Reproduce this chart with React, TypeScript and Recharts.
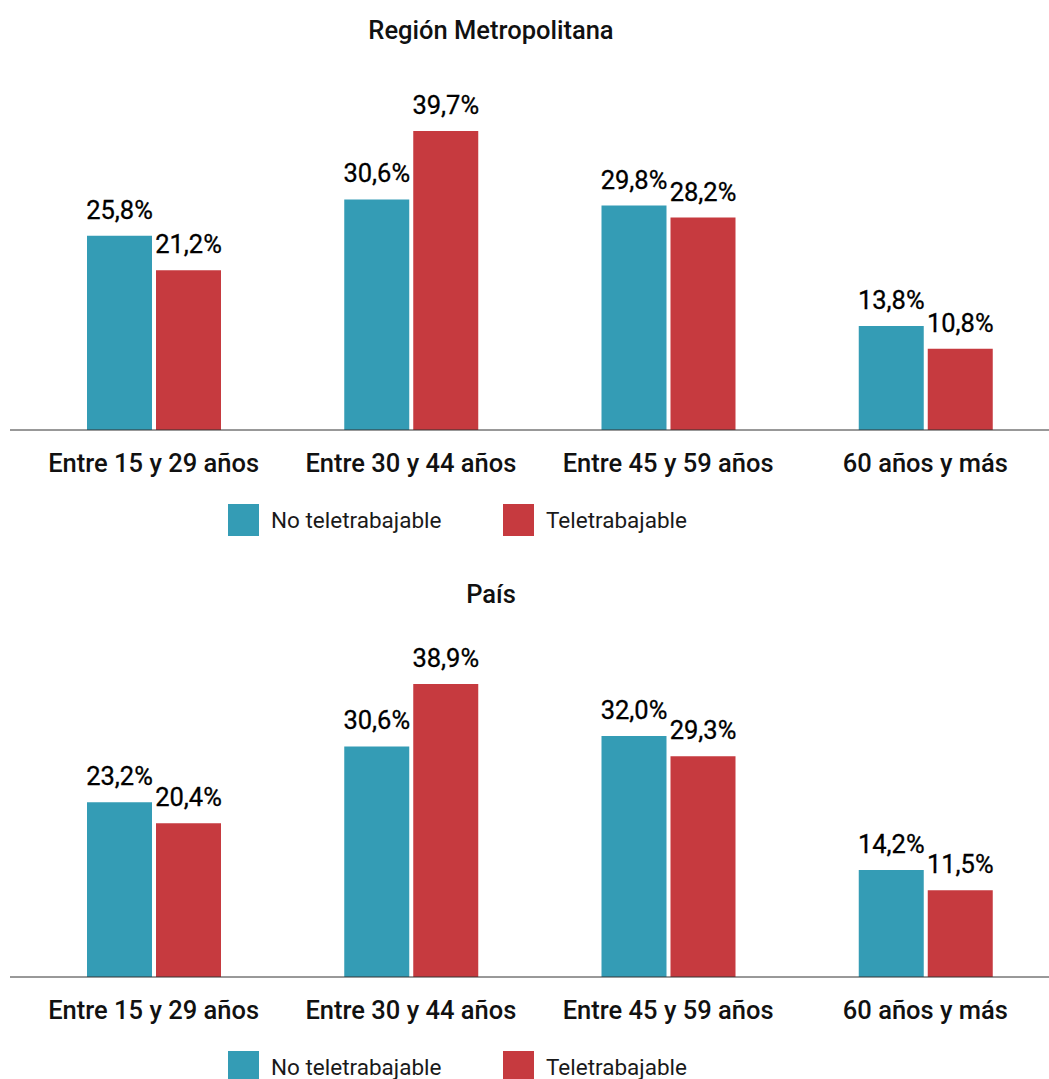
import { BarChart, Bar, XAxis, YAxis, Legend, LabelList } from "recharts";

const grupos = [
  "Entre 15 y 29 años",
  "Entre 30 y 44 años",
  "Entre 45 y 59 años",
  "60 años y más",
];

// Región Metropolitana
const rmNoTele = [25.8, 30.6, 29.8, 13.8];
const rmTele = [21.2, 39.7, 28.2, 10.8];

// País
const paisNoTele = [23.2, 30.6, 32.0, 14.2];
const paisTele = [20.4, 38.9, 29.3, 11.5];

const AZUL = "#349cb5";
const ROJO = "#c63a3f";
const FUENTE = "Roboto, 'Noto Sans', sans-serif";
const TINTA = "#111";

const armarFilas = (a: number[], b: number[]) =>
  grupos.map((g, i) => ({ grupo: g, noTele: a[i], tele: b[i] }));

const porcentaje = (v: number) => v.toFixed(1).replace(".", ",") + "%";

const EtiquetaValor = (props: any) => {
  const { x, y, width, value } = props;
  return (
    <text
      x={Number(x) + Number(width) / 2}
      y={Number(y) - 17}
      textAnchor="middle"
      fontFamily={FUENTE}
      fontSize={25.5}
      fontWeight={400}
      fill="#000"
      stroke="#000"
      strokeWidth={0.3}
    >
      {porcentaje(Number(value))}
    </text>
  );
};

const TickGrupo = (props: any) => {
  const { x, y, payload } = props;
  return (
    <text
      x={x}
      y={y + 42}
      textAnchor="middle"
      fontFamily={FUENTE}
      fontSize={25.5}
      fontWeight={500}
      fill={TINTA}
    >
      {payload.value}
    </text>
  );
};

const Leyenda = (props: any) => {
  const items = props.payload || [];
  return (
    <div style={{ display: "flex", alignItems: "center" }}>
      {items.map((it: any) => (
        <div
          key={it.value}
          style={{ display: "flex", alignItems: "center", width: 275 }}
        >
          <span
            style={{
              display: "inline-block",
              width: 31,
              height: 32,
              background: it.color,
              marginRight: 12,
            }}
          />
          <span
            style={{
              fontFamily: FUENTE,
              fontSize: 22.5,
              color: "#1a1a1a",
              lineHeight: "32px",
            }}
          >
            {it.value}
          </span>
        </div>
      ))}
    </div>
  );
};

type PanelProps = {
  titulo: string;
  tituloY: number;
  noTele: number[];
  tele: number[];
  top: number;
};

const PanelEdad = ({ titulo, tituloY, noTele, tele, top }: PanelProps) => (
  <div style={{ position: "absolute", left: 0, top, width: 1049, height: 547 }}>
    <BarChart
      width={1049}
      height={547}
      data={armarFilas(noTele, tele)}
      margin={{ top: 91, right: 0, bottom: 57, left: 10 }}
      barSize={65}
      barGap={4}
    >
      <text
        x={491}
        y={tituloY}
        textAnchor="middle"
        fontFamily={FUENTE}
        fontSize={25.5}
        fontWeight={500}
        fill={TINTA}
      >
        {titulo}
      </text>
      <XAxis
        dataKey="grupo"
        height={60}
        interval={0}
        padding={{ left: 15, right: -5 }}
        axisLine={{ stroke: "#333", strokeWidth: 1 }}
        tickLine={false}
        tickSize={0}
        tickMargin={0}
        tick={<TickGrupo />}
      />
      <YAxis hide domain={[0, 45]} />
      <Legend
        verticalAlign="middle"
        align="center"
        content={<Leyenda />}
        wrapperStyle={{ left: 228, top: 504, width: 560 }}
      />
      <Bar
        dataKey="noTele"
        name="No teletrabajable"
        fill={AZUL}
        isAnimationActive={false}
      >
        <LabelList dataKey="noTele" content={<EtiquetaValor />} />
      </Bar>
      <Bar
        dataKey="tele"
        name="Teletrabajable"
        fill={ROJO}
        isAnimationActive={false}
      >
        <LabelList dataKey="tele" content={<EtiquetaValor />} />
      </Bar>
    </BarChart>
  </div>
);

export default function App() {
  return (
    <div
      style={{
        position: "absolute",
        left: 0,
        top: 0,
        width: 1049,
        height: 1079,
        overflow: "hidden",
        background: "#fff",
        fontFamily: FUENTE,
      }}
    >
      <PanelEdad
        titulo="Región Metropolitana"
        tituloY={39}
        noTele={rmNoTele}
        tele={rmTele}
        top={0}
      />
      <PanelEdad
        titulo="País"
        tituloY={56}
        noTele={paisNoTele}
        tele={paisTele}
        top={547}
      />
    </div>
  );
}
